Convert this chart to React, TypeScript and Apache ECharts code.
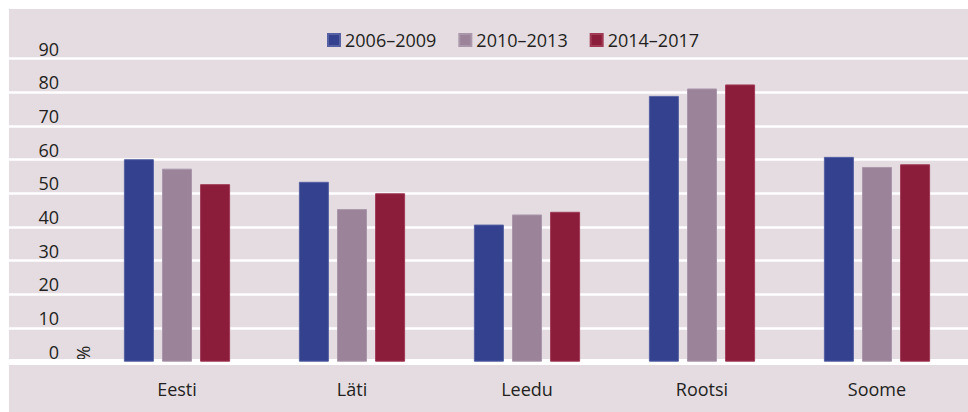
import React, { useEffect, useRef } from "react";
import * as echarts from "echarts";

const categories = ["Eesti", "Läti", "Leedu", "Rootsi", "Soome"];
const seriesNames = ["2006–2009", "2010–2013", "2014–2017"];
const values2006 = [60.1, 53.4, 40.7, 78.9, 60.8];
const values2010 = [57.3, 45.3, 43.7, 81.1, 57.8];
const values2014 = [52.7, 50.0, 44.5, 82.3, 58.6];
const yTicks = [0, 10, 20, 30, 40, 50, 60, 70, 80, 90];

const colors = ["#33418f", "#9b839a", "#8b1c3a"];
const borders = ["#5561a3", "#ab97ab", "#a03a55"];
const FONT = "Open Sans";
const TEXT = "#231f20";

export default function App() {
  const ref = useRef<HTMLDivElement>(null);
  useEffect(() => {
    if (!ref.current) return;
    const chart = echarts.init(ref.current, undefined, { renderer: "svg" });
    const allSeries = [values2006, values2010, values2014];
    const yMax = yTicks[yTicks.length - 1];
    chart.setOption({
      animation: false,
      backgroundColor: "#e4dce1",
      textStyle: { fontFamily: FONT },
      legend: {
        left: 313,
        top: 17,
        itemWidth: 12,
        itemHeight: 12,
        itemGap: 22,
        icon: "rect",
        textStyle: { fontFamily: FONT, fontSize: 18, color: TEXT },
        data: seriesNames,
      },
      grid: [
        { left: 0, right: 0, top: 49.5, bottom: 50.3 },
        { left: 80.5, right: 3.5, top: 49.5, bottom: 50.3 },
      ],
      xAxis: [
        {
          gridIndex: 0,
          type: "category",
          data: categories,
          offset: 3,
          axisLine: { show: true, lineStyle: { color: "#ffffff", width: 6 } },
          axisTick: { show: false },
          axisLabel: { show: false },
        },
        {
          gridIndex: 1,
          type: "category",
          data: categories,
          axisLine: { show: false },
          axisTick: { show: false },
          axisLabel: {
            margin: 18,
            fontFamily: FONT,
            fontSize: 18,
            color: TEXT,
          },
        },
      ],
      yAxis: [
        {
          gridIndex: 0,
          type: "value",
          min: 0,
          max: yMax,
          interval: 10,
          axisLine: { show: false },
          axisTick: { show: false },
          axisLabel: { show: false },
          splitLine: { show: true, lineStyle: { color: "#ffffff", width: 2.5 } },
        },
        {
          gridIndex: 1,
          type: "value",
          min: 0,
          max: yMax,
          interval: 10,
          axisLine: { show: false },
          axisTick: { show: false },
          splitLine: { show: false },
          axisLabel: {
            margin: 30.5,
            fontFamily: FONT,
            fontSize: 18,
            color: TEXT,
            verticalAlign: "bottom",
            lineHeight: 20,
          },
        },
      ],
      graphic: [
        {
          type: "text",
          x: 74,
          y: 344,
          rotation: Math.PI / 2,
          style: {
            text: "%",
            fontFamily: FONT,
            fontSize: 18,
            fill: TEXT,
            align: "center",
            verticalAlign: "middle",
          },
        },
      ],
      series: seriesNames.map((name, i) => ({
        name,
        type: "bar",
        xAxisIndex: 1,
        yAxisIndex: 1,
        data: allSeries[i],
        barWidth: 30,
        barGap: "27%",
        itemStyle: { color: colors[i], borderColor: borders[i], borderWidth: 1 },
      })),
    });
    return () => chart.dispose();
  }, []);
  return (
    <div
      ref={ref}
      style={{ position: "absolute", left: 9, top: 9, width: 959, height: 403 }}
    />
  );
}
